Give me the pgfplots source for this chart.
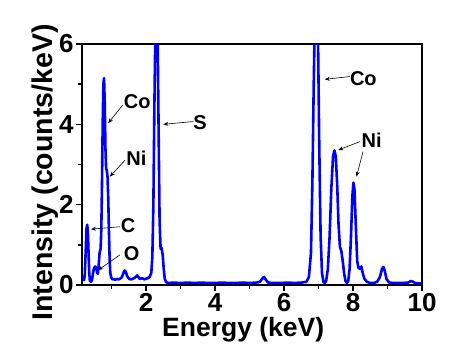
\documentclass[border=0pt]{standalone}
\usepackage{fontspec}
\setmainfont{Liberation Sans}
\usepackage{pgfplots}
\pgfplotsset{compat=1.18}
\usetikzlibrary{arrows.meta}
\definecolor{specblue}{RGB}{0,0,255}
\begin{document}
\begin{tikzpicture}
\path[use as bounding box] (0,0) rectangle (460pt,345pt);
\begin{axis}[
  at={(82pt,60pt)}, anchor=south west,
  scale only axis, width=340pt, height=241pt,
  xmin=0.14, xmax=10, ymin=0, ymax=6,
  xtick={2,4,6,8,10}, minor xtick={1,3,5,7,9},
  ytick={0,2,4,6}, minor ytick={1,3,5},
  tick align=outside, xtick pos=bottom, ytick pos=left,
  major tick length=6pt, minor tick length=4pt,
  every tick/.style={black, line width=1.5pt},
  axis line style={line width=2pt},
  /pgf/number format/assume math mode=true,
  ticklabel style={font=\fontsize{26}{28}\selectfont\bfseries},
  xticklabel style={yshift=1pt},
  yticklabel style={xshift=1pt},
  xlabel={Energy (keV)},
  ylabel={Intensity (counts/keV)},
  xlabel style={font=\fontsize{26.5}{28}\selectfont\bfseries, at={(axis description cs:0.474,-0.185)}, anchor=center},
  ylabel style={font=\fontsize{28.5}{30}\selectfont\bfseries, at={(axis description cs:-0.108,0.467)}, anchor=center, rotate=0},
  clip=true,
]
\addplot[specblue, line width=2.6pt, line join=round] coordinates {
(0.15,0.15) (0.18,0.2) (0.2,0.12) (0.22,0.25) (0.25,0.9) (0.27,1.4) (0.29,1.5) (0.31,1.35) (0.33,0.8) (0.35,0.3) (0.37,0.1) (0.40,0.08) (0.43,0.12) (0.46,0.3) (0.49,0.42) (0.52,0.46) (0.55,0.43) (0.58,0.3) (0.60,0.28) (0.62,0.45) (0.65,0.8) (0.68,0.9) (0.70,1.4) (0.72,2.5) (0.74,4.0) (0.76,5.0) (0.78,5.15) (0.80,4.5) (0.82,3.4) (0.84,2.9) (0.86,2.85) (0.88,2.7) (0.90,2.2) (0.92,1.4) (0.94,0.7) (0.96,0.3) (0.99,0.18) (1.02,0.14) (1.05,0.15) (1.1,0.13) (1.15,0.15) (1.2,0.14) (1.25,0.16) (1.3,0.2) (1.35,0.32) (1.38,0.36) (1.41,0.33) (1.45,0.22) (1.5,0.16) (1.55,0.14) (1.6,0.15) (1.65,0.17) (1.7,0.2) (1.74,0.24) (1.78,0.19) (1.82,0.15) (1.88,0.17) (1.95,0.14) (2.0,0.16) (2.05,0.17) (2.1,0.2) (2.15,0.3) (2.18,0.7) (2.21,2.0) (2.24,4.5) (2.27,6.5) (2.30,7.0) (2.33,6.5) (2.36,4.0) (2.39,1.6) (2.42,0.9) (2.45,0.92) (2.48,0.75) (2.51,0.4) (2.54,0.15) (2.58,0.07) (2.65,0.05)
(2.8,0.06) (3.0,0.05) (3.2,0.06) (3.4,0.05) (3.6,0.06) (3.8,0.05) (4.0,0.05) (4.2,0.06) (4.4,0.05) (4.6,0.05) (4.8,0.06) (5.0,0.05) (5.2,0.06) (5.3,0.08) (5.36,0.15) (5.42,0.2) (5.48,0.12) (5.54,0.06) (5.7,0.05) (5.9,0.05) (6.1,0.06) (6.3,0.05) (6.5,0.06) (6.65,0.08) (6.72,0.2) (6.78,0.8) (6.82,2.5) (6.86,5.0) (6.90,7) (6.94,7.5) (6.98,6.5) (7.02,3.5) (7.06,1.2) (7.10,0.3) (7.14,0.08) (7.18,0.05) (7.22,0.1) (7.27,0.4) (7.32,1.2) (7.37,2.4) (7.42,3.2) (7.46,3.35) (7.50,3.2) (7.54,2.5) (7.58,1.5) (7.62,0.95) (7.66,0.85) (7.70,0.6) (7.74,0.3) (7.78,0.1) (7.82,0.05) (7.86,0.1) (7.90,0.4) (7.94,1.2) (7.98,2.2) (8.01,2.55) (8.04,2.4) (8.08,1.5) (8.12,0.6) (8.16,0.42) (8.20,0.4) (8.24,0.46) (8.28,0.3) (8.33,0.15) (8.40,0.08) (8.5,0.05) (8.6,0.05) (8.7,0.08) (8.78,0.2) (8.84,0.4) (8.88,0.45) (8.92,0.35) (8.97,0.15) (9.05,0.06) (9.2,0.05) (9.4,0.05) (9.6,0.06) (9.68,0.1) (9.74,0.08) (9.8,0.05) (9.9,0.04) (10,0.04)
};
\begin{scope}[font=\fontsize{20}{22}\selectfont\bfseries]
\draw[-{Stealth[length=5pt,width=4pt]}, line width=0.6pt] (axis cs:1.32,4.48) -- (axis cs:0.90,4.03);
\node[anchor=center] at (axis cs:1.74,4.56) {Co};
\draw[-{Stealth[length=5pt,width=4pt]}, line width=0.6pt] (axis cs:1.39,3.11) -- (axis cs:0.95,2.70);
\node[anchor=center] at (axis cs:1.72,3.15) {Ni};
\draw[-{Stealth[length=5pt,width=4pt]}, line width=0.6pt] (axis cs:1.24,1.45) -- (axis cs:0.40,1.39);
\node[anchor=center] at (axis cs:1.48,1.49) {C};
\draw[-{Stealth[length=5pt,width=4pt]}, line width=0.6pt] (axis cs:1.24,0.75) -- (axis cs:0.61,0.37);
\node[anchor=center] at (axis cs:1.58,0.79) {O};
\draw[-{Stealth[length=5pt,width=4pt]}, line width=0.6pt] (axis cs:3.37,4.07) -- (axis cs:2.50,4.00);
\node[anchor=center] at (axis cs:3.56,4.04) {S};
\draw[-{Stealth[length=5pt,width=4pt]}, line width=0.6pt] (axis cs:7.91,5.19) -- (axis cs:7.18,5.12);
\node[anchor=center] at (axis cs:8.30,5.15) {Co};
\draw[-{Stealth[length=5pt,width=4pt]}, line width=0.6pt] (axis cs:8.20,3.57) -- (axis cs:7.57,3.36);
\draw[-{Stealth[length=5pt,width=4pt]}, line width=0.6pt] (axis cs:8.29,3.32) -- (axis cs:8.10,2.70);
\node[anchor=center] at (axis cs:8.54,3.61) {Ni};
\end{scope}
\end{axis}
\end{tikzpicture}
\end{document}
